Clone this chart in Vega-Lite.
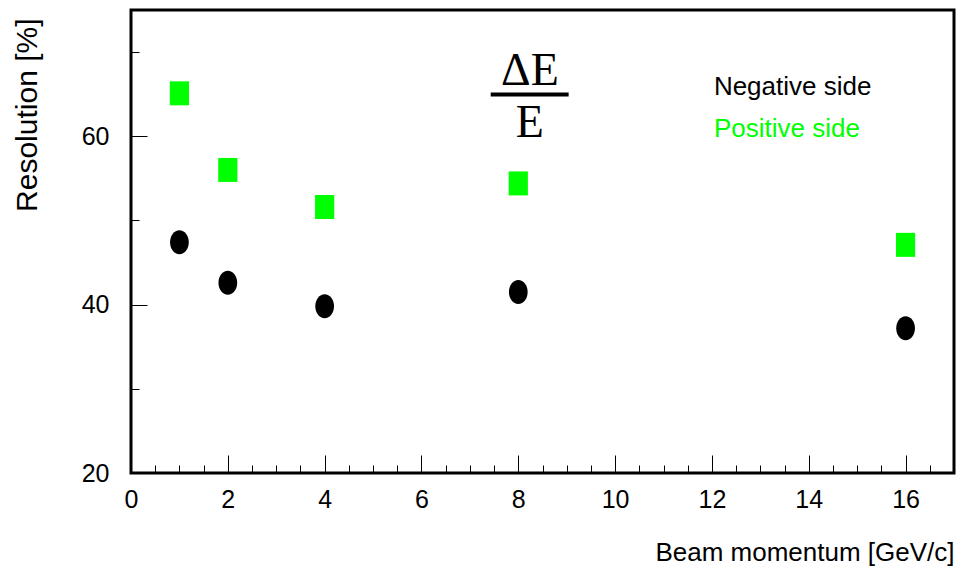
{
  "$schema": "https://vega.github.io/schema/vega-lite/v6.json",
  "width": 823,
  "height": 463,
  "autosize": {"type": "none"},
  "padding": {"left": 131, "top": 10, "right": 5, "bottom": 95},
  "background": "white",
  "config": {
    "view": {"stroke": "black", "strokeWidth": 3},
    "axis": {
      "grid": false,
      "domain": false,
      "tickColor": "black",
      "tickWidth": 1,
      "labelFont": "Liberation Sans",
      "labelFontSize": 25,
      "labelColor": "black",
      "titleFont": "Liberation Sans",
      "titleFontSize": 26,
      "titleFontWeight": "normal",
      "titleColor": "black",
      "labelFlush": false,
      "labelOverlap": false
    }
  },
  "datasets": {
    "points": [
      {"momentum": 1, "resolution": 47.4, "side": "Negative side"},
      {"momentum": 2, "resolution": 42.6, "side": "Negative side"},
      {"momentum": 4, "resolution": 39.8, "side": "Negative side"},
      {"momentum": 8, "resolution": 41.5, "side": "Negative side"},
      {"momentum": 16, "resolution": 37.2, "side": "Negative side"},
      {"momentum": 1, "resolution": 65.1, "side": "Positive side"},
      {"momentum": 2, "resolution": 56.0, "side": "Positive side"},
      {"momentum": 4, "resolution": 51.6, "side": "Positive side"},
      {"momentum": 8, "resolution": 54.4, "side": "Positive side"},
      {"momentum": 16, "resolution": 47.1, "side": "Positive side"}
    ],
    "legendText": [
      {"side": "Negative side", "x": 12.04, "y": 64.9},
      {"side": "Positive side", "x": 12.04, "y": 59.9}
    ],
    "frac": [
      {"label": ["ΔE", "E"], "x": 8.24, "y": 66.1}
    ],
    "fracBar": [
      {"x": 7.43, "x2": 9.04, "y": 64.95}
    ]
  },
  "layer": [
    {
      "data": {"name": "points"},
      "transform": [{"filter": "datum.side === 'Negative side'"}],
      "mark": {"type": "point", "filled": true, "opacity": 1, "size": 576, "strokeWidth": 0},
      "encoding": {
        "x": {"field": "momentum", "type": "quantitative",
          "scale": {"domain": [0, 17], "nice": false, "zero": false},
          "axis": {"orient": "bottom", "values": [0, 2, 4, 6, 8, 10, 12, 14, 16], "tickSize": -18, "labelPadding": 32, "format": "d",
            "title": "Beam momentum [GeV/c]", "titleAnchor": "end", "titlePadding": 27}},
        "y": {"field": "resolution", "type": "quantitative",
          "scale": {"domain": [20, 75], "nice": false, "zero": false},
          "axis": {"orient": "left", "values": [20, 40, 60], "tickSize": -16, "labelPadding": 38, "format": "d",
            "title": "Resolution [%]", "titleAnchor": "end", "titlePadding": 39, "titleFontSize": 30, "titleY": 8}},
        "color": {"field": "side", "type": "nominal",
          "scale": {"domain": ["Negative side", "Positive side"], "range": ["black", "#00ff00"]}, "legend": null},
        "shape": {"field": "side", "type": "nominal",
          "scale": {"domain": ["Negative side", "Positive side"],
            "range": ["M0,-1C0.43,-1,0.78,-0.552,0.78,0C0.78,0.552,0.43,1,0,1C-0.43,1,-0.78,0.552,-0.78,0C-0.78,-0.552,-0.43,-1,0,-1Z",
                      "M-0.8,-1L0.8,-1L0.8,1L-0.8,1Z"]}, "legend": null}
      }
    },
    {
      "data": {"name": "points"},
      "transform": [{"filter": "datum.side === 'Positive side'"}],
      "mark": {"type": "point", "filled": true, "opacity": 1, "size": 576, "strokeWidth": 0},
      "encoding": {
        "x": {"field": "momentum", "type": "quantitative",
          "scale": {"domain": [0, 17], "nice": false, "zero": false},
          "axis": {"orient": "bottom", "values": [0.5, 1, 1.5, 2.5, 3, 3.5, 4.5, 5, 5.5, 6.5, 7, 7.5, 8.5, 9, 9.5, 10.5, 11, 11.5, 12.5, 13, 13.5, 14.5, 15, 15.5, 16.5],
            "tickSize": -8, "labels": false, "title": null}},
        "y": {"field": "resolution", "type": "quantitative",
          "scale": {"domain": [20, 75], "nice": false, "zero": false},
          "axis": {"orient": "left", "values": [30, 50, 70], "tickSize": -8, "labels": false, "title": null}},
        "color": {"field": "side", "type": "nominal",
          "scale": {"domain": ["Negative side", "Positive side"], "range": ["black", "#00ff00"]}, "legend": null},
        "shape": {"field": "side", "type": "nominal",
          "scale": {"domain": ["Negative side", "Positive side"],
            "range": ["M0,-1C0.43,-1,0.78,-0.552,0.78,0C0.78,0.552,0.43,1,0,1C-0.43,1,-0.78,0.552,-0.78,0C-0.78,-0.552,-0.43,-1,0,-1Z",
                      "M-0.8,-1L0.8,-1L0.8,1L-0.8,1Z"]}, "legend": null}
      }
    },
    {
      "data": {"name": "legendText"},
      "mark": {"type": "text", "align": "left", "baseline": "alphabetic", "font": "Liberation Sans", "fontSize": 26},
      "encoding": {
        "x": {"field": "x", "type": "quantitative", "scale": {"domain": [0, 17], "nice": false, "zero": false}, "axis": null},
        "y": {"field": "y", "type": "quantitative", "scale": {"domain": [20, 75], "nice": false, "zero": false}, "axis": null},
        "text": {"field": "side"},
        "color": {"field": "side", "type": "nominal",
          "scale": {"domain": ["Negative side", "Positive side"], "range": ["black", "#00ff00"]}, "legend": null}
      }
    },
    {
      "data": {"name": "frac"},
      "mark": {"type": "text", "align": "center", "baseline": "alphabetic", "font": "Liberation Serif", "fontSize": 46, "lineHeight": 52, "color": "black"},
      "encoding": {
        "x": {"field": "x", "type": "quantitative", "scale": {"domain": [0, 17], "nice": false, "zero": false}, "axis": null},
        "y": {"field": "y", "type": "quantitative", "scale": {"domain": [20, 75], "nice": false, "zero": false}, "axis": null},
        "text": {"field": "label"}
      }
    },
    {
      "data": {"name": "fracBar"},
      "mark": {"type": "rule", "color": "black", "strokeWidth": 4},
      "encoding": {
        "x": {"field": "x", "type": "quantitative", "scale": {"domain": [0, 17], "nice": false, "zero": false}, "axis": null},
        "x2": {"field": "x2"},
        "y": {"field": "y", "type": "quantitative", "scale": {"domain": [20, 75], "nice": false, "zero": false}, "axis": null}
      }
    }
  ],
  "resolve": {"axis": {"x": "independent", "y": "independent"}}
}
